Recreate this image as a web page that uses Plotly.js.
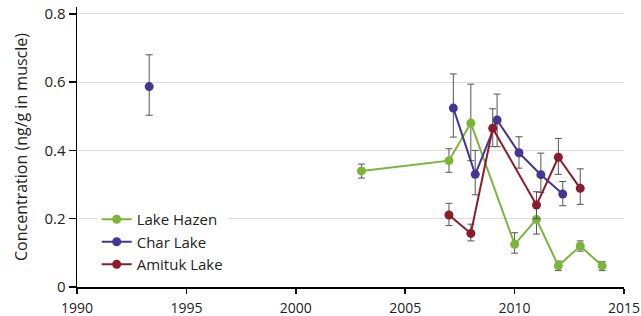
<!DOCTYPE html>
<html>
<head>
<meta charset="utf-8">
<script src="https://cdn.plot.ly/plotly-3.0.1.min.js"></script>
<style>html,body{margin:0;padding:0;background:#fff}#chart{width:641px;height:316px}</style>
</head>
<body>
<div id="chart"></div>
<script>
// Lake Hazen
const hazenYears = [2003, 2007, 2008, 2010, 2011, 2012, 2013, 2014];
const hazenVals  = [0.34, 0.37, 0.48, 0.125, 0.198, 0.062, 0.12, 0.062];
const hazenHi    = [0.36, 0.405, 0.594, 0.159, 0.24, 0.076, 0.135, 0.074];
const hazenLo    = [0.319, 0.336, 0.37, 0.099, 0.155, 0.048, 0.105, 0.048];
// Char Lake (1993 point stands alone, not joined to the later series)
const charYears = [1993.3, 2007.2, 2008.2, 2009.2, 2010.2, 2011.2, 2012.2];
const charVals  = [0.587, 0.524, 0.33, 0.489, 0.393, 0.329, 0.272];
const charHi    = [0.68, 0.624, 0.40, 0.565, 0.44, 0.392, 0.309];
const charLo    = [0.503, 0.439, 0.27, 0.411, 0.348, 0.277, 0.238];
// Amituk Lake
const amitukYears = [2007, 2008, 2009, 2011, 2012, 2013];
const amitukVals  = [0.211, 0.157, 0.465, 0.24, 0.38, 0.289];
const amitukHi    = [0.245, 0.184, 0.522, 0.279, 0.435, 0.346];
const amitukLo    = [0.18, 0.135, 0.411, 0.2, 0.33, 0.242];

const xTickVals = [1990, 1995, 2000, 2005, 2010, 2015];
const xTickText = ['1990', '1995', '2000', '2005', '2010', '2015'];
const yTickVals = [0, 0.2, 0.4, 0.6, 0.8];
const yTickText = ['0', '0.2', '0.4', '0.6', '0.8'];

function mk(name, xs, ys, hi, lo, color, showlegend) {
  return {
    type: 'scatter', mode: 'lines+markers', name: name, legendgroup: name,
    showlegend: showlegend,
    x: xs, y: ys,
    line: {color: color, width: 2},
    marker: {color: color, size: 9},
    error_y: {
      type: 'data', symmetric: false,
      array: hi.map((h, i) => h - ys[i]),
      arrayminus: lo.map((l, i) => ys[i] - l),
      color: '#555', thickness: 1, width: 3.5
    }
  };
}

const blue = '#463593';
const data = [
  mk('Lake Hazen', hazenYears, hazenVals, hazenHi, hazenLo, '#7ab53a', true),
  mk('Char Lake', charYears.slice(1), charVals.slice(1), charHi.slice(1), charLo.slice(1), blue, true),
  mk('Char Lake', charYears.slice(0, 1), charVals.slice(0, 1), charHi.slice(0, 1), charLo.slice(0, 1), blue, false),
  mk('Amituk Lake', amitukYears, amitukVals, amitukHi, amitukLo, '#8b1c2c', true)
];

const layout = {
  width: 641, height: 316,
  margin: {l: 77, r: 17, t: 7, b: 29},
  paper_bgcolor: '#fff', plot_bgcolor: '#fff',
  font: {family: 'Open Sans, sans-serif', size: 15, color: '#222'},
  showlegend: true,
  legend: {
    x: 0.036, y: 0.30, xanchor: 'left', yanchor: 'top',
    bgcolor: '#fff', font: {size: 15, color: '#222'},
    tracegroupgap: 0, itemwidth: 30
  },
  xaxis: {
    range: [1990, 2015], tickvals: xTickVals, ticktext: xTickText,
    showgrid: false, zeroline: false, showline: true, linecolor: '#000', linewidth: 1.5,
    ticks: 'outside', ticklen: 5, tickcolor: '#000', tickwidth: 1.5,
    ticklabeloverflow: 'allow', ticklabelstandoff: 3,
    tickfont: {size: 14, color: '#222'}
  },
  yaxis: {
    range: [0, 0.82], tickvals: yTickVals, ticktext: yTickText,
    showgrid: true, gridcolor: '#dcdcdc', gridwidth: 1,
    zeroline: false, showline: true, linecolor: '#000', linewidth: 1.5,
    ticks: 'outside', ticklen: 7, tickcolor: '#000', tickwidth: 1.5,
    tickfont: {size: 15, color: '#222'},
    title: {text: 'Concentration (ng/g in muscle)', font: {size: 16, color: '#222'}, standoff: 13}
  }
};

Plotly.newPlot('chart', data, layout, {displayModeBar: false, staticPlot: true});
</script>
</body>
</html>
